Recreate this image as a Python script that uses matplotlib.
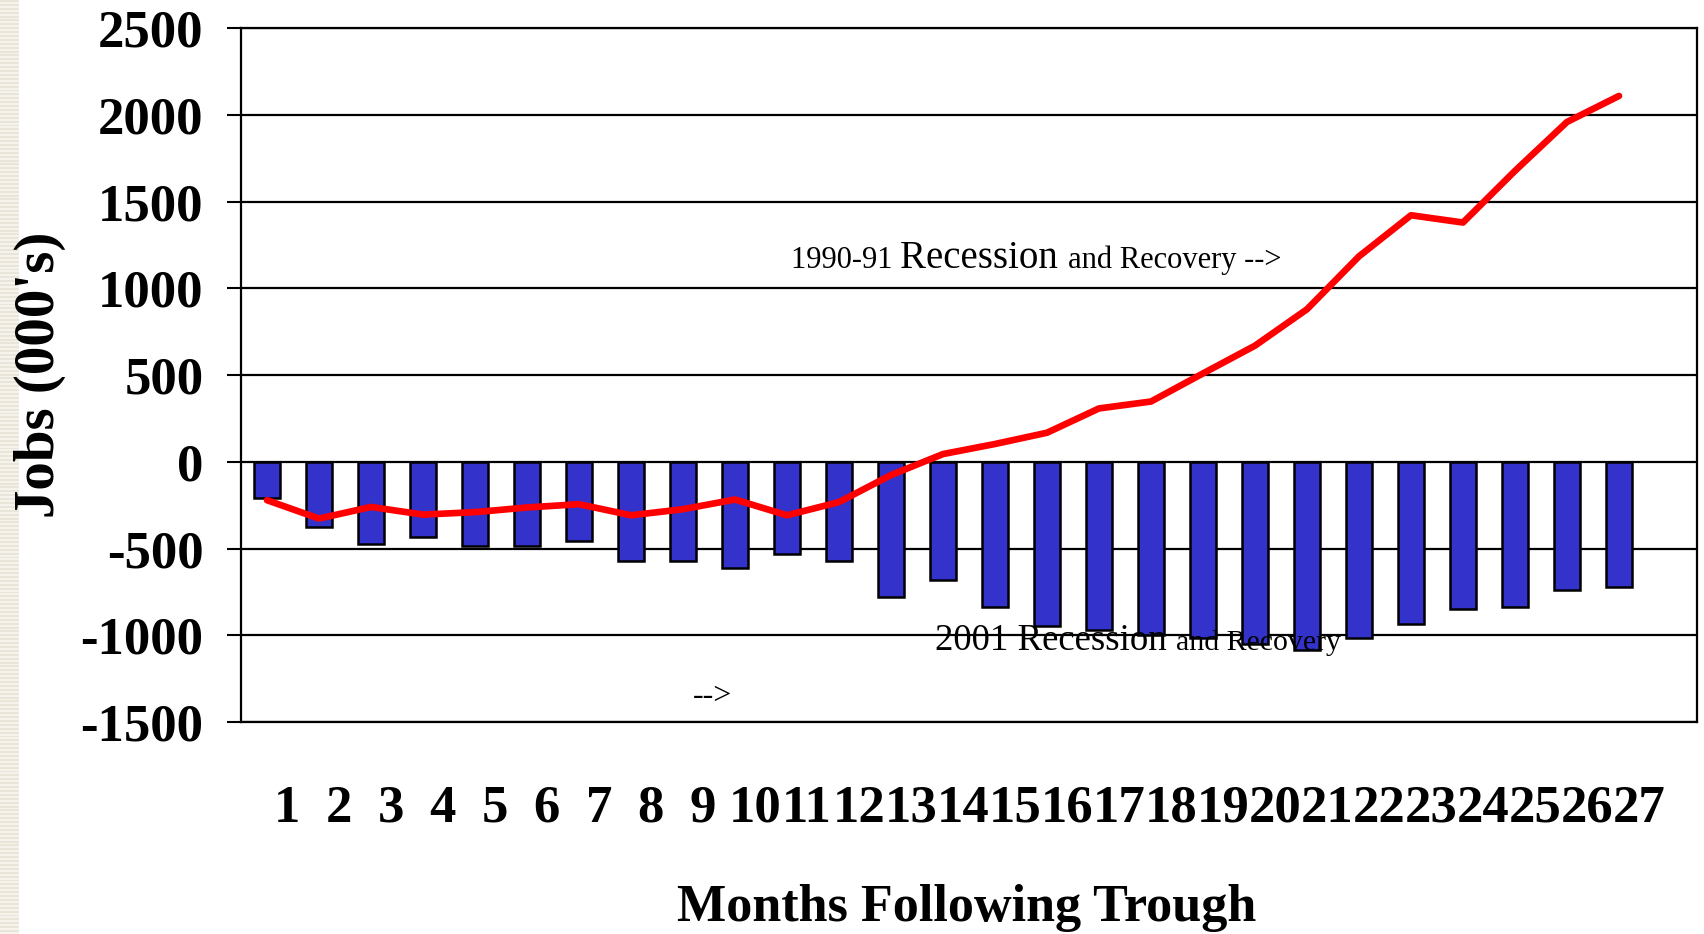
import numpy as np
import matplotlib
matplotlib.use("Agg")
from matplotlib import pyplot as plt

# data (thousands of jobs)
months = np.arange(1, 28)
month_labels = [str(m) for m in months]
jobs_2001 = [-211, -375, -475, -433, -487, -487, -456, -571, -571, -612,
             -533, -570, -779, -683, -836, -946, -972, -997, -1013, -1050,
             -1087, -1017, -933, -850, -837, -741, -721]
jobs_1990 = [-221, -327, -260, -304, -290, -263, -244, -308, -273, -217,
             -308, -232, -76, 45, 103, 168, 308, 348, 510, 670,
             880, 1185, 1422, 1380, 1678, 1960, 2110]
y_ticks = [-1500, -1000, -500, 0, 500, 1000, 1500, 2000, 2500]

SERIF = "Liberation Serif"
W, H = 1704, 934

fig = plt.figure(figsize=(W / 100, H / 100), dpi=100)

# striped strip on the left edge
strip = fig.add_axes([0, 0, 18.5 / W, 1])
stripes = np.array([[0.0], [0.0], [1.0], [1.0]] * 240)
strip.imshow(stripes, aspect="auto", cmap=matplotlib.colors.ListedColormap(["#e9e5d8", "#f5f3ec"]),
             interpolation="nearest")
strip.axis("off")

ax = fig.add_axes([241 / W, (H - 722) / H, 1456 / W, 693.7 / H])

ax.bar(months, jobs_2001, width=0.5, color="#3333cc", edgecolor="black",
       linewidth=1.8, zorder=2)
ax.plot(months, jobs_1990, color="#ff0000", linewidth=4.8,
        solid_capstyle="round", solid_joinstyle="round", zorder=3)

ax.set_xlim(0.5, 28.5)
ax.set_ylim(-1500, 2500)
ax.set_yticks(y_ticks)
ax.set_yticklabels([str(v) for v in y_ticks], fontfamily=SERIF,
                   fontweight="bold", fontsize=38)
ax.set_xticks(months + 0.38)
ax.set_xticklabels(month_labels, fontfamily=SERIF, fontweight="bold",
                   fontsize=38)
ax.tick_params(axis="x", length=0, pad=45)
ax.tick_params(axis="y", length=10, width=1.5, pad=17, direction="out")

ax.yaxis.grid(True, color="black", linewidth=1.6)
ax.set_axisbelow(True)
for sp in ax.spines.values():
    sp.set_linewidth(1.6)
    sp.set_color("black")

ax.set_xlabel("Months Following Trough", fontfamily=SERIF,
              fontweight="bold", fontsize=37.5, va="baseline")
ax.xaxis.set_label_coords(0.4986, -0.287)
ax.set_ylabel("Jobs (000's)", fontfamily=SERIF, fontweight="bold",
              fontsize=41, va="center")
ax.yaxis.set_label_coords(-0.1384, 0.5)

# annotations with mixed font sizes
def text_run(parts, x, y):
    prev = None
    for s, size in parts:
        if prev is None:
            prev = ax.annotate(s, xy=(x, y), xycoords="axes fraction",
                               fontfamily=SERIF, fontsize=size,
                               va="baseline", ha="left", zorder=4)
        else:
            prev = ax.annotate(s, xy=(1, y), xycoords=(prev, "axes fraction"),
                               fontfamily=SERIF, fontsize=size,
                               va="baseline", ha="left", zorder=4)

text_run([("1990-91 ", 22), ("Recession ", 28), ("and Recovery -->", 22)],
         0.3777, 0.6545)
text_run([("2001 Recession ", 26.5), ("and Recovery", 21.5)], 0.4766, 0.1038)
ax.annotate("-->", xy=(0.3104, 0.026), xycoords="axes fraction",
            fontfamily=SERIF, fontsize=23, va="baseline", ha="left", zorder=4)

fig.savefig("out.png", dpi=100)
